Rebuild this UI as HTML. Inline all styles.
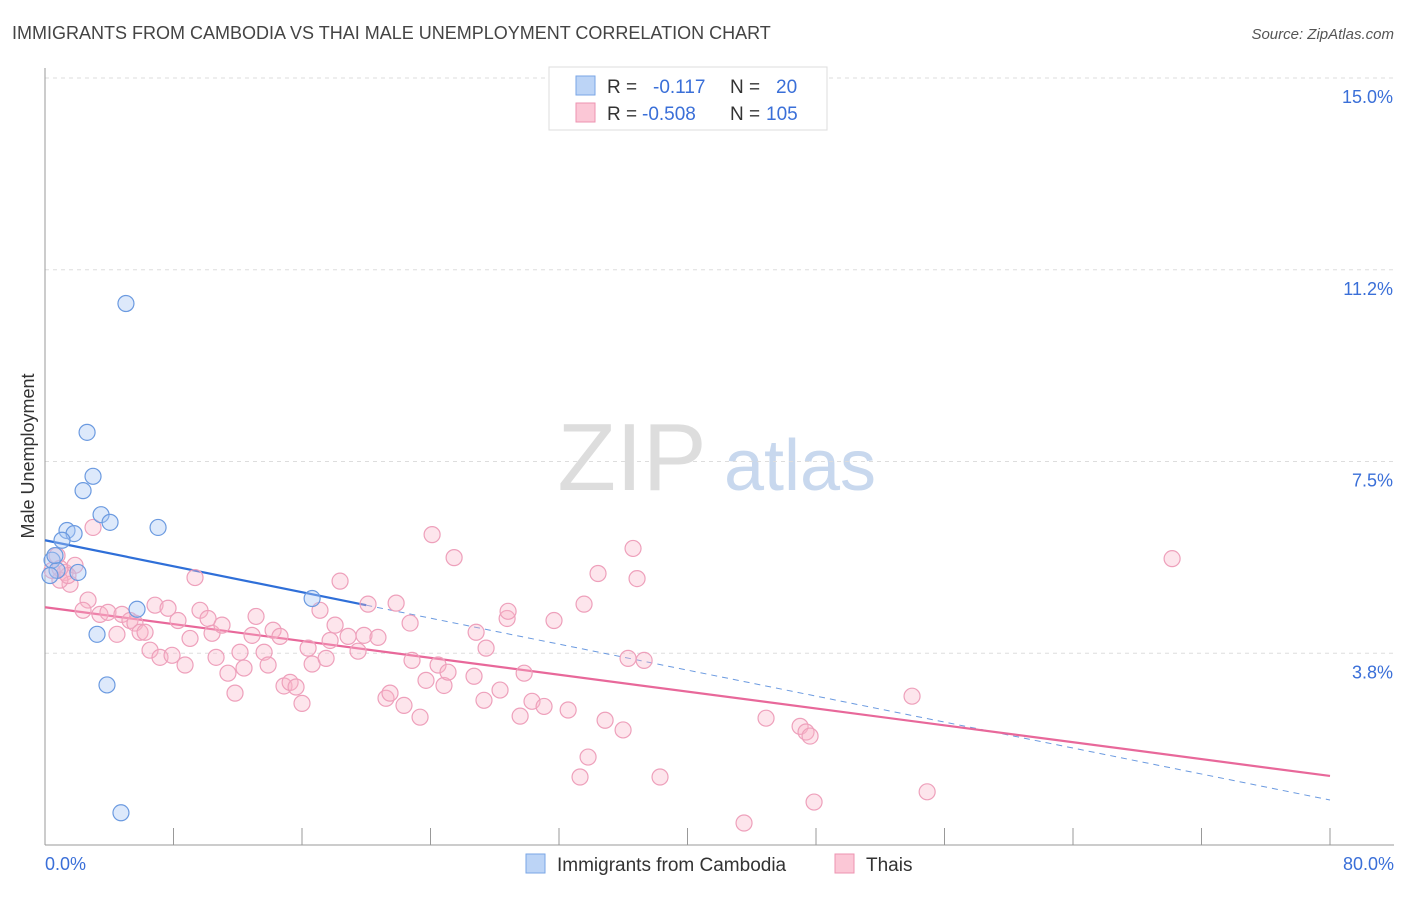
<!DOCTYPE html>
<html><head><meta charset="utf-8">
<style>
body{margin:0;background:#fff;font-family:"Liberation Sans",sans-serif;}
svg text{font-family:"Liberation Sans",sans-serif;}
</style></head>
<body>
<svg id="chart" width="1406" height="892" xmlns="http://www.w3.org/2000/svg">
<text x="12" y="39" font-size="18" fill="#444">IMMIGRANTS FROM CAMBODIA VS THAI MALE UNEMPLOYMENT CORRELATION CHART</text>
<text x="1394" y="39" font-size="15" fill="#555" text-anchor="end" font-style="italic">Source: ZipAtlas.com</text>
<g>
<text x="632" y="490" font-size="96" fill="#ddd" text-anchor="middle" font-family="Liberation Serif,serif">ZIP</text>
<text x="800" y="490" font-size="72" fill="#c8d8ee" text-anchor="middle">atlas</text>
</g>
<g id="grid"></g>
<g id="axes"></g>
<g id="lines"></g>
<g id="points"></g>
<text transform="translate(34,456) rotate(-90)" font-size="18" fill="#333" text-anchor="middle">Male Unemployment</text>
<g>
<rect x="549" y="67" width="278" height="63" fill="#fff" stroke="#ddd"/>
<rect x="576" y="76" width="19" height="19" fill="#bcd4f6" stroke="#7aa6e6"/>
<rect x="576" y="103" width="19" height="19" fill="#fbc7d6" stroke="#ee93b0"/>
<text x="607" y="93" font-size="19" fill="#333">R =</text>
<text x="653" y="93" font-size="19" fill="#3a6fd8">-0.117</text>
<text x="730" y="93" font-size="19" fill="#333">N =</text>
<text x="776" y="93" font-size="19" fill="#3a6fd8">20</text>
<text x="607" y="120" font-size="19" fill="#333">R =</text>
<text x="642" y="120" font-size="19" fill="#3a6fd8">-0.508</text>
<text x="730" y="120" font-size="19" fill="#333">N =</text>
<text x="766" y="120" font-size="19" fill="#3a6fd8">105</text>
</g>
<g>
<rect x="526" y="854" width="19" height="19" fill="#bcd4f6" stroke="#7aa6e6"/>
<text x="557" y="871" font-size="19" fill="#333">Immigrants from Cambodia</text>
<rect x="835" y="854" width="19" height="19" fill="#fbc7d6" stroke="#ee93b0"/>
<text x="866" y="871" font-size="19" fill="#333">Thais</text>
</g>
</svg>
<script>
const yTicks=[15,11.25,7.5,3.75];
const yTickLabels=["15.0%","11.2%","7.5%","3.8%"];
const xTickLabels=["0.0%","80.0%"];
const blueX=[5.04,2.62,2.99,2.37,3.49,4.05,7.04,1.37,1.81,1.06,0.44,0.75,2.05,5.73,3.24,3.86,4.73,16.63,0.62,0.31];
const blueY=[10.59,8.07,7.21,6.93,6.46,6.31,6.21,6.15,6.09,5.96,5.57,5.37,5.33,4.61,4.12,3.13,0.63,4.82,5.66,5.27];
const pinkX=[2.99,0.75,1.25,1.56,0.93,1.87,1.43,2.68,2.37,3.42,3.92,4.48,4.79,5.29,5.60,5.92,6.23,6.54,6.85,7.16,7.66,7.91,8.28,8.72,9.03,9.34,9.65,10.15,10.40,10.65,11.02,11.39,11.83,12.14,12.39,12.89,13.14,13.64,13.89,14.20,14.63,14.88,15.26,15.63,16.00,16.38,16.63,17.12,17.50,17.75,18.06,18.37,18.87,19.49,19.86,20.11,20.73,21.23,21.48,21.86,22.35,22.73,22.85,23.35,23.72,24.10,24.47,24.84,25.09,25.47,26.71,26.84,27.33,27.46,28.33,28.77,28.83,29.58,29.83,30.32,31.07,31.69,32.57,33.31,33.56,33.81,34.43,34.87,35.99,36.30,36.61,36.86,37.30,38.29,43.52,44.89,47.01,47.38,47.63,47.88,53.98,54.92,70.17,0.44,0.93];
const pinkY=[6.21,5.66,5.33,5.10,5.18,5.47,5.27,4.79,4.59,4.51,4.55,4.12,4.51,4.39,4.34,4.16,4.16,3.81,4.69,3.67,4.63,3.71,4.39,3.52,4.04,5.23,4.59,4.43,4.14,3.67,4.30,3.36,2.97,3.77,3.46,4.10,4.47,3.77,3.52,4.20,4.08,3.11,3.18,3.09,2.77,3.85,3.54,4.59,3.65,4.00,4.30,5.16,4.08,3.79,4.10,4.71,4.06,2.87,2.97,4.73,2.73,4.34,3.61,2.50,3.22,6.07,3.52,3.12,3.38,5.62,3.30,4.16,2.83,3.85,3.03,4.43,4.57,2.52,3.36,2.81,2.71,4.39,2.64,1.33,4.71,1.72,5.31,2.44,2.25,3.65,5.80,5.21,3.61,1.33,0.43,2.48,2.32,2.21,2.13,0.84,2.91,1.04,5.60,5.37,5.41];
const blueTrend=[5.96,0.88];
const pinkTrend=[4.65,1.35];
const blueSolidEnd=20;

const X0=45,X1=1330,Y0=845,Y1=78;
const sx=v=>X0+(X1-X0)*v/80;
const sy=v=>Y0-(Y0-Y1)*v/15;
const NS="http://www.w3.org/2000/svg";
function mk(tag,attrs,parent){const e=document.createElementNS(NS,tag);for(const k in attrs)e.setAttribute(k,attrs[k]);document.getElementById(parent).appendChild(e);return e;}
yTicks.forEach((t,i)=>{
 const g=mk('line',{x1:X0,x2:1394,y1:sy(t),y2:sy(t),stroke:'#ddd','stroke-dasharray':'4,4'},'grid');
 
 
 const l=mk('text',{x:1393,y:sy(t)+25,'font-size':18,fill:'#3a6fd8','text-anchor':'end'},'axes');
 l.textContent=yTickLabels[i];
 
 
});
const ax=mk('line',{x1:X0,x2:X0,y1:68,y2:Y0,stroke:'#999'},'axes');


const bx=mk('line',{x1:X0,x2:1394,y1:Y0,y2:Y0,stroke:'#999'},'axes');


for(let i=0;i<=10;i++){
 const t=mk('line',{x1:sx(i*8),x2:sx(i*8),y1:828,y2:Y0,stroke:'#999'},'axes');
 
 
}
[[0,'start',45],[80,'end',1394]].forEach((d,i)=>{
 const l=mk('text',{x:d[2],y:870,'font-size':18,fill:'#3a6fd8','text-anchor':d[1]},'axes');
 l.textContent=xTickLabels[i];
 
 
});
function pts(xs,ys,fill,stroke,name){
 xs.forEach((x,i)=>{
  const c=mk('circle',{cx:sx(x),cy:sy(ys[i]),r:8,fill:fill,stroke:stroke,'stroke-width':1.2},'points');
  
  
 });
}
pts(pinkX,pinkY,'rgba(248,180,200,0.35)','#eea0bb','thai-point');
pts(blueX,blueY,'rgba(170,200,245,0.4)','#6b9ae0','cambodia-point');
const ty=v=>blueTrend[0]+(blueTrend[1]-blueTrend[0])*v/80;
const bs=mk('line',{x1:sx(0),y1:sy(ty(0)),x2:sx(blueSolidEnd),y2:sy(ty(blueSolidEnd)),stroke:'#2f6fd8','stroke-width':2.2},'lines');


const bd=mk('line',{x1:sx(blueSolidEnd),y1:sy(ty(blueSolidEnd)),x2:sx(80),y2:sy(ty(80)),stroke:'#6b9ae0','stroke-width':1,'stroke-dasharray':'6,5'},'lines');


const pl=mk('line',{x1:sx(0),y1:sy(pinkTrend[0]),x2:sx(80),y2:sy(pinkTrend[1]),stroke:'#e8689a','stroke-width':2.2},'lines');


</script>
</body></html>
